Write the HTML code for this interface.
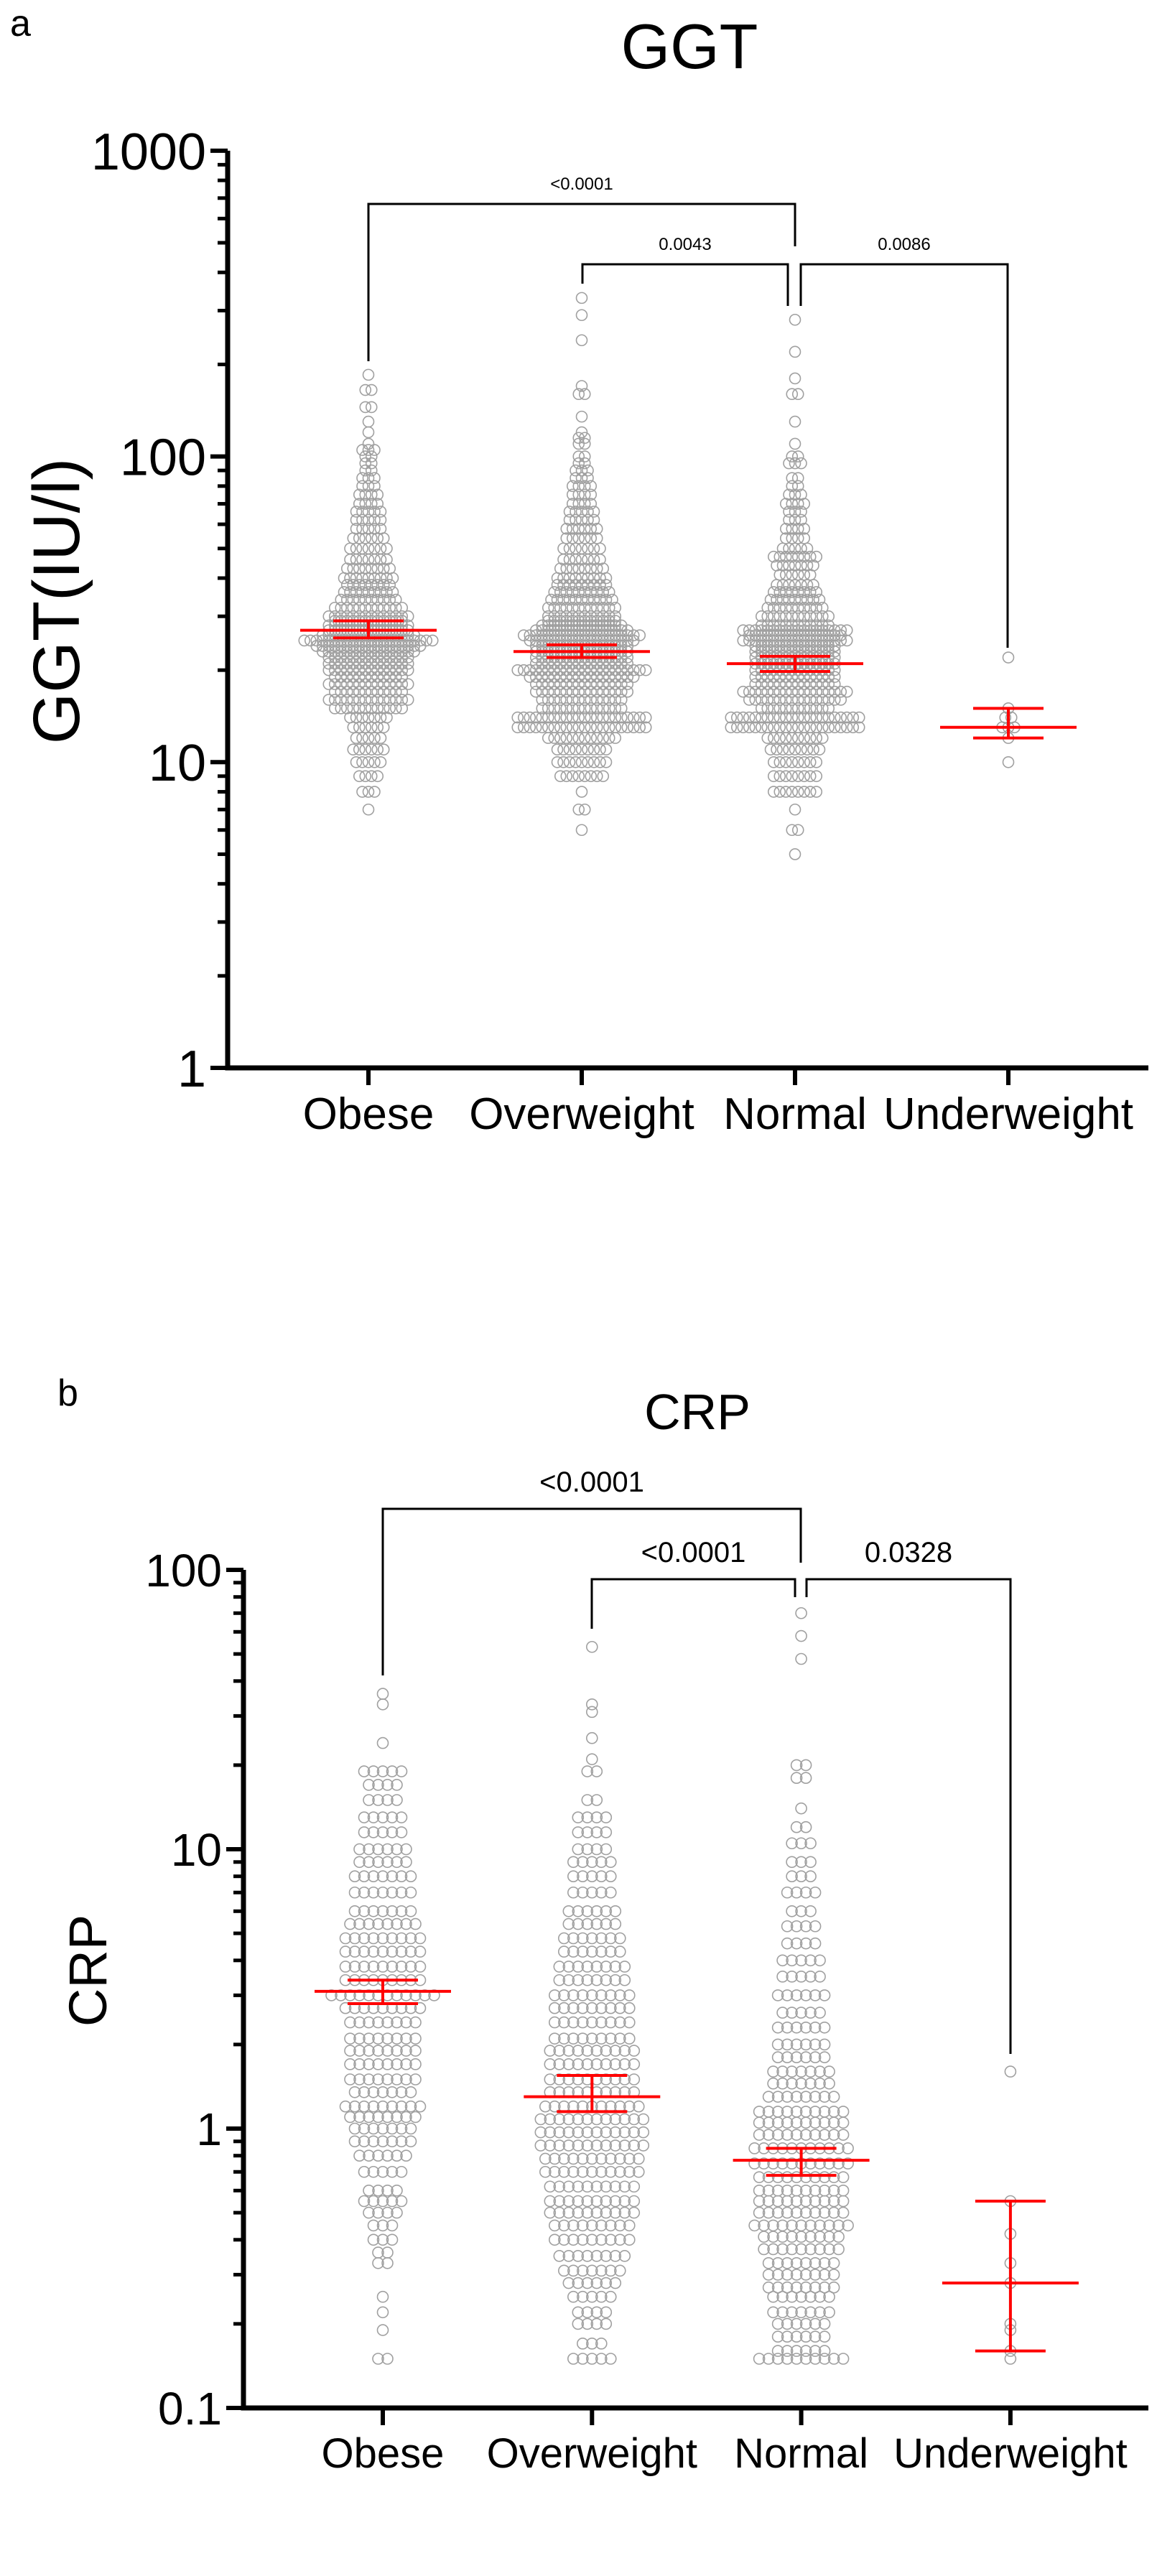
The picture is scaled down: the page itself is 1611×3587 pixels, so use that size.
<!DOCTYPE html>
<html><head><meta charset="utf-8"><style>
html,body{margin:0;padding:0;background:#fff;}
svg{display:block;font-family:"Liberation Sans",Arial,sans-serif;}
</style></head><body>
<svg id="fig" width="1611" height="3587" viewBox="0 0 1611 3587" xmlns="http://www.w3.org/2000/svg">
<rect width="1611" height="3587" fill="#fff"/>
<text x="14" y="50" font-size="52">a</text>
<text x="960" y="95" font-size="88" text-anchor="middle">GGT</text>
<text transform="translate(110,837) rotate(-90)" font-size="92" text-anchor="middle">GGT(IU/l)</text>
<text x="80" y="1957" font-size="52">b</text>
<text x="971" y="1990" font-size="70" text-anchor="middle">CRP</text>
<text transform="translate(148,2744) rotate(-90)" font-size="74" text-anchor="middle">CRP</text>
<g id="gA"></g>
<g id="gB"></g>
</svg>
<script>
const categories = ["Obese","Overweight","Normal","Underweight"];
// GGT: [value, count] rows per group
const ggtObese = [[7,1],[8,3],[9,4],[10,5],[11,6],[12,5],[13,6],[14,7],[15,12],[16,14],[17,12],[18,14],[19,12],[20,14],[21,14],[22,14],[23,16],[24,18],[25,22],[26,16],[27,14],[28,14],[29,12],[30,14],[32,12],[34,10],[36,9],[38,8],[40,9],[43,8],[46,7],[50,7],[54,6],[58,5],[62,5],[66,5],[70,4],[75,4],[80,3],[85,3],[90,2],[95,2],[100,2],[105,3],[110,1],[120,1],[130,1],[145,2],[165,2],[185,1]];
const ggtOverweight = [[6,1],[7,2],[8,1],[9,8],[10,9],[11,9],[12,12],[13,22],[14,22],[15,14],[16,14],[17,16],[18,16],[19,18],[20,22],[21,16],[22,16],[23,16],[24,16],[25,18],[26,20],[27,16],[28,14],[29,12],[30,12],[32,12],[34,11],[36,10],[38,9],[40,9],[43,8],[46,7],[50,7],[54,6],[58,6],[62,5],[66,5],[70,4],[75,4],[80,4],[85,3],[90,3],[95,2],[100,2],[110,2],[115,2],[120,1],[135,1],[160,2],[170,1],[240,1],[290,1],[330,1]];
const ggtNormal = [[5,1],[6,2],[7,1],[8,8],[9,8],[10,8],[11,9],[12,10],[13,22],[14,22],[15,12],[16,16],[17,18],[18,14],[19,14],[20,14],[21,14],[22,14],[23,14],[24,14],[25,18],[26,16],[27,18],[28,12],[30,12],[32,10],[34,9],[36,8],[38,7],[41,6],[44,7],[47,8],[50,5],[54,4],[58,4],[62,3],[66,3],[70,4],[75,3],[80,2],[85,2],[95,3],[100,2],[110,1],[130,1],[160,2],[180,1],[220,1],[280,1]];
const ggtUnder = [[10,1],[12,1],[13,3],[14,2],[15,1],[22,1]];
const ggtMean = [27,23,21,13];
const ggtLow = [25.5,22,19.8,12];
const ggtHigh = [29,24.2,22.2,15];
const ggtTicks = [1,10,100,1000];
const ggtPvals = ["<0.0001","0.0043","0.0086"];
// CRP
const crpObese = [[0.15,2],[0.19,1],[0.22,1],[0.25,1],[0.33,2],[0.36,2],[0.4,3],[0.45,3],[0.5,4],[0.55,5],[0.6,4],[0.7,5],[0.8,6],[0.9,7],[1.0,7],[1.1,8],[1.2,9],[1.35,7],[1.5,8],[1.7,8],[1.9,8],[2.1,8],[2.4,8],[2.7,9],[3.0,12],[3.4,9],[3.8,9],[4.3,9],[4.8,9],[5.4,8],[6,7],[7,7],[8,7],[9,6],[10,6],[11.5,5],[13,5],[15,4],[17,4],[19,5],[24,1],[33,1],[36,1]];
const crpOverweight = [[0.15,5],[0.17,3],[0.2,4],[0.22,4],[0.25,5],[0.28,6],[0.31,7],[0.35,8],[0.4,9],[0.45,9],[0.5,10],[0.55,10],[0.62,10],[0.7,11],[0.78,11],[0.87,12],[0.97,12],[1.08,12],[1.2,11],[1.35,10],[1.5,10],[1.7,10],[1.9,10],[2.1,9],[2.4,9],[2.7,9],[3.0,9],[3.4,8],[3.8,8],[4.3,7],[4.8,7],[5.4,6],[6,6],[7,5],[8,5],[9,5],[10,4],[11.5,4],[13,4],[15,2],[19,2],[21,1],[25,1],[31,1],[33,1],[53,1]];
const crpNormal = [[0.15,10],[0.16,6],[0.18,6],[0.2,6],[0.22,7],[0.25,7],[0.27,8],[0.3,8],[0.33,8],[0.37,9],[0.41,9],[0.45,11],[0.5,10],[0.55,10],[0.6,10],[0.67,10],[0.75,11],[0.85,11],[0.95,10],[1.05,10],[1.15,10],[1.3,8],[1.45,7],[1.6,7],[1.8,6],[2.0,6],[2.3,6],[2.6,5],[3.0,6],[3.5,5],[4,5],[4.6,4],[5.3,4],[6,3],[7,4],[8,3],[9,3],[10.5,3],[12,2],[14,1],[18,2],[20,2],[48,1],[58,1],[70,1]];
const crpUnder = [[0.15,1],[0.16,1],[0.19,1],[0.2,1],[0.28,1],[0.33,1],[0.42,1],[0.55,1],[1.6,1]];
const crpMean = [3.1,1.3,0.77,0.28];
const crpLow = [2.8,1.15,0.68,0.16];
const crpHigh = [3.4,1.55,0.85,0.55];
const crpTicks = [0.1,1,10,100];
const crpPvals = ["<0.0001","<0.0001","0.0328"];

const NS = "http://www.w3.org/2000/svg";
function mk(parent, tag, attrs){
  const e = document.createElementNS(NS, tag);
  for (const k in attrs) e.setAttribute(k, attrs[k]);
  parent.appendChild(e);
  return e;
}
function drawPanel(g, P){
  const y = v => P.y0 - (Math.log10(v) - Math.log10(P.ticks[0])) * P.dec;
  const x = i => P.xs[0] + i * P.xstep;
  P.groups.forEach((rows, gi) => {
    rows.forEach(r => {
      const n = r[1];
      for (let k = 0; k < n; k++) {
        const c = mk(g, 'circle', {cx: x(gi) + (k - (n - 1) / 2) * P.sp, cy: y(r[0]), r: 7.5, fill: 'none', stroke: '#a0a0a0', 'stroke-width': 1.6});
        
        
      }
    });
  });
  P.mean.forEach((m, gi) => {
    const cx = x(gi);
    const a = mk(g, 'line', {x1: cx - 95, x2: cx + 95, y1: y(m), y2: y(m), stroke: '#f00', 'stroke-width': 4});
    
    
    const b = mk(g, 'line', {x1: cx, x2: cx, y1: y(P.low[gi]), y2: y(P.high[gi]), stroke: '#f00', 'stroke-width': 4});
    
    
    [P.low[gi], P.high[gi]].forEach(v => {
      const c = mk(g, 'line', {x1: cx - 49, x2: cx + 49, y1: y(v), y2: y(v), stroke: '#f00', 'stroke-width': 4});
      
      
    });
  });
  const yTop = y(P.ticks[P.ticks.length - 1]), yBot = y(P.ticks[0]);
  const ax = mk(g, 'path', {d: `M${P.ax},${yTop} V${yBot} H1599`, fill: 'none', stroke: '#000', 'stroke-width': 7});
  
  
  P.ticks.forEach((t, i) => {
    mk(g, 'line', {x1: P.ax - 24, x2: P.ax, y1: y(t), y2: y(t), stroke: '#000', 'stroke-width': 6});
    const tl = mk(g, 'text', {x: P.ax - 30, y: y(t) + P.tf * 0.36, 'font-size': P.tf, 'text-anchor': 'end'});
    tl.textContent = String(t);
    
    
    if (i < P.ticks.length - 1) {
      for (let m = 2; m <= 9; m++) {
        mk(g, 'line', {x1: P.ax - 14, x2: P.ax, y1: y(t * m), y2: y(t * m), stroke: '#000', 'stroke-width': 5});
      }
    }
  });
  categories.forEach((c, i) => {
    mk(g, 'line', {x1: x(i), x2: x(i), y1: yBot, y2: yBot + 24, stroke: '#000', 'stroke-width': 6});
    const t = mk(g, 'text', {x: x(i), y: P.labY, 'font-size': P.cf, 'text-anchor': 'middle'});
    t.textContent = c;
    
    
  });
  P.br.forEach((b, i) => {
    const p = mk(g, 'path', {d: `M${b[0]},${b[3]} V${b[2]} H${b[1]} V${b[4]}`, fill: 'none', stroke: '#000', 'stroke-width': 3});
    
    
    const t = mk(g, 'text', {x: (b[0] + b[1]) / 2, y: b[2] - P.pgap, 'font-size': P.pf, 'text-anchor': 'middle'});
    t.textContent = P.pv[i];
    
    
  });
}
drawPanel(document.getElementById('gA'), {
  y0: 1487, dec: 425.7, ticks: ggtTicks, xs: [513], xstep: 297, ax: 317, sp: 8.5,
  groups: [ggtObese, ggtOverweight, ggtNormal, ggtUnder], mean: ggtMean, low: ggtLow, high: ggtHigh,
  tf: 72, cf: 62, labY: 1572, pf: 24, pgap: 20, pv: ggtPvals,
  br: [[513, 1107, 284, 503, 343], [811, 1097, 368, 395, 426], [1115, 1403, 368, 426, 902]]
});
drawPanel(document.getElementById('gB'), {
  y0: 3353, dec: 389, ticks: crpTicks, xs: [533], xstep: 291.3, ax: 339, sp: 13,
  groups: [crpObese, crpOverweight, crpNormal, crpUnder], mean: crpMean, low: crpLow, high: crpHigh,
  tf: 64, cf: 58, labY: 3436, pf: 40, pgap: 24, pv: crpPvals,
  br: [[533, 1115, 2101, 2333, 2176], [824, 1107, 2199, 2268, 2224], [1123, 1407, 2199, 2224, 2860]]
});
</script>
</body></html>
